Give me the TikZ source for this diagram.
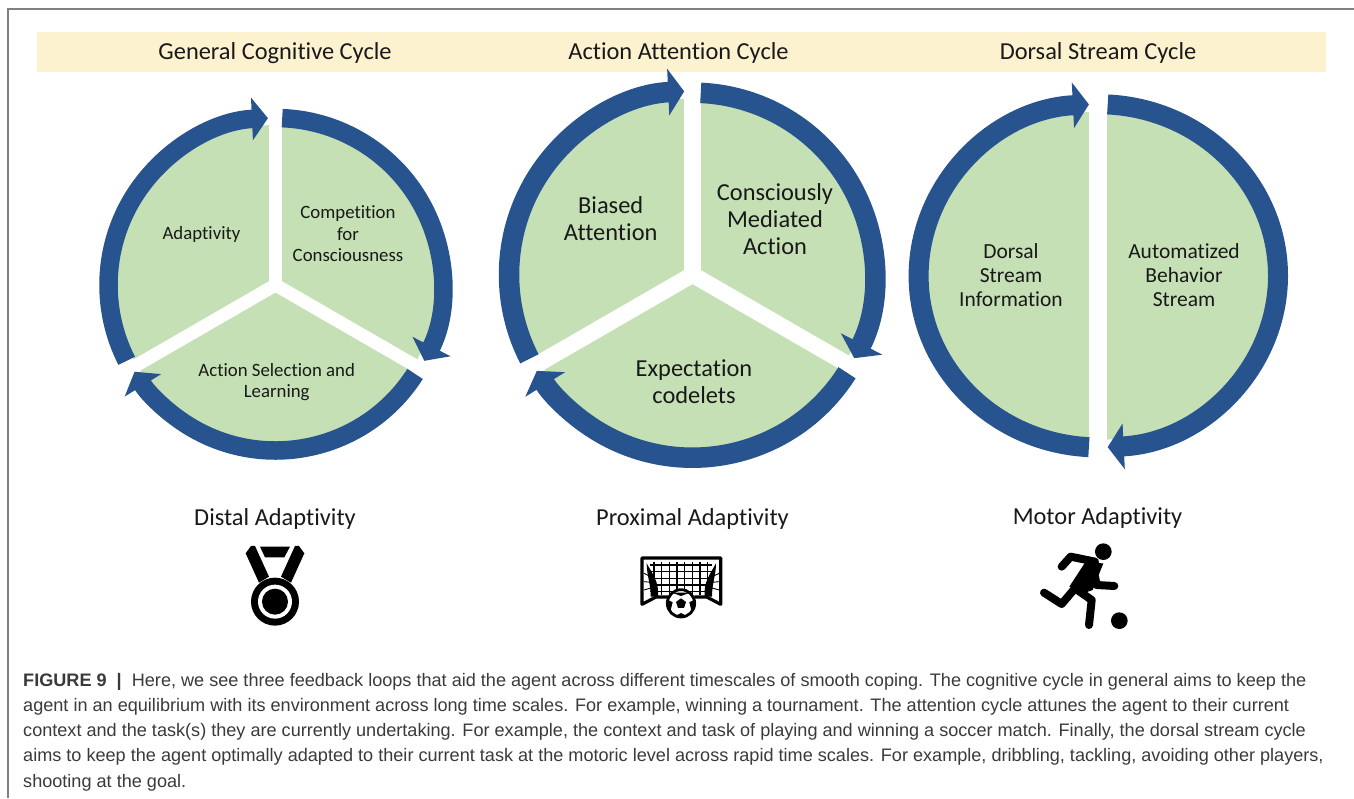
\documentclass[tikz,border=0pt]{standalone}
\usepackage{fontspec}
\usetikzlibrary{arrows.meta}
\setmainfont[Ligatures=CommonOff]{Carlito}
\newfontfamily\captionfont{Liberation Sans}
\definecolor{cyclegreen}{HTML}{C5E0B4}
\definecolor{cycleblue}{HTML}{27538F}
\definecolor{bandcream}{HTML}{FDF2CF}
\definecolor{captiontext}{HTML}{3A3A3A}

\begin{document}
\begin{tikzpicture}[x=1pt,y=1pt,
    sector/.style={fill=cyclegreen},
    gap/.style={draw=white,line width=13},
    looparrow/.style={draw=cycleblue,line width=18.5,-{Triangle[width=42pt,length=16pt]}},
    bigarrow/.style={draw=cycleblue,line width=20.5,-{Triangle[width=46pt,length=16pt]}},
    tallarrow/.style={draw=cycleblue,line width=20,-{Triangle[width=45pt,length=16pt]}},
    heading/.style={font=\fontsize{24.4}{28}\selectfont,text=black!90},
    smalllabel/.style={align=center,font=\fontsize{18.8}{21.5}\selectfont,text=black!90},
    biglabel/.style={align=center,font=\fontsize{24.4}{27}\selectfont,text=black!90},
    midlabel/.style={align=center,font=\fontsize{21.5}{24}\selectfont,text=black!90}]
    \useasboundingbox (0,0) rectangle (1354,798);
    \draw[black!50,line width=1.3] (8,0) -- (8,789) -- (1354,789);
    \fill[bandcream] (37,726) rectangle (1326,766);

    \coordinate (G) at (275.5,513);
    \coordinate (A) at (692.5,523.3);
    \coordinate (D) at (1098.3,522.2);

    % general cognitive cycle
    \fill[sector] (G) circle (160);
    \draw[gap] (G) -- ++(90:165);
    \draw[gap] (G) -- ++(-30:165);
    \draw[gap] (G) -- ++(210:165);
    \draw[looparrow] (G) ++(207:167) arc[start angle=207,end angle=92.6,radius=167];
    \draw[looparrow] (G) ++(87.7:167) arc[start angle=87.7,end angle=-27,radius=167];
    \draw[looparrow] (G) ++(-32.5:165.5) arc[start angle=-32.5,end angle=-148.4,radius=165.5];

    % action attention cycle
    \fill[sector] (A) circle (176);
    \draw[gap,line width=16.3] (A) -- ++(90:181);
    \draw[gap,line width=16.3] (A) -- ++(-30:181);
    \draw[gap,line width=16.3] (A) -- ++(210:181);
    \draw[bigarrow] (A) ++(207.3:183.5) arc[start angle=207.3,end angle=92.6,radius=183.5];
    \draw[bigarrow] (A) ++(87.4:182) arc[start angle=87.4,end angle=-27.3,radius=182];
    \draw[bigarrow] (A) ++(-32.4:183) arc[start angle=-32.4,end angle=-148.3,radius=183];

    % dorsal stream cycle
    \fill[sector] (D) ellipse[x radius=172,y radius=164];
    \draw[gap,line width=18] (D) ++(0,170) -- ++(0,-340);
    \draw[tallarrow] (D) ++(267:179.7 and 171.6) arc[start angle=267,end angle=93,x radius=179.7,y radius=171.6];
    \draw[tallarrow] (D) ++(87:179.7 and 171.6) arc[start angle=87,end angle=-87,x radius=179.7,y radius=171.6];

    \node[heading] (gtitle) at (275,744.5) {General Cognitive Cycle};
    \node[heading] (atitle) at (678.5,744.5) {Action Attention Cycle};
    \node[heading] (dtitle) at (1098,744.5) {Dorsal Stream Cycle};

    \node[smalllabel] (adapt) at (201.5,564) {Adaptivity};
    \node[smalllabel] (compete) at (348,564.3) {Competition\\for\\Consciousness};
    \node[smalllabel] (select) at (276.7,416) {Action Selection and\\Learning};
    \node[biglabel] (biased) at (610.7,579.3) {Biased\\Attention};
    \node[biglabel] (mediated) at (775,579) {Consciously\\Mediated\\Action};
    \node[biglabel] (expect) at (694,416) {Expectation\\codelets};
    \node[midlabel] (dorsal) at (1011,523) {Dorsal\\Stream\\Information};
    \node[midlabel] (auto) at (1184,523) {Automatized\\Behavior\\Stream};

    \node[heading] (distal) at (275,279.5) {Distal Adaptivity};
    \node[heading] (proximal) at (692.5,279.5) {Proximal Adaptivity};
    \node[heading] (motor) at (1097.5,280.5) {Motor Adaptivity};

    % medal
    \begin{scope}[shift={(235,263)},x=0.3333pt,y=-0.3333pt]
      \fill (75,35) -- (165,35) -- (148,67) -- (90,67) -- cycle;
      \fill (32,55) -- (48,33) -- (60,33) -- (102,125) -- (72,143) -- cycle;
      \fill (208,55) -- (192,33) -- (180,33) -- (138,125) -- (168,143) -- cycle;
      \fill (120,200) circle (72);
      \fill[white] (120,200) circle (51);
      \fill (120,200) circle (39);
    \end{scope}

    % goal
    \begin{scope}[shift={(630,253)},x=0.3333pt,y=-0.3333pt]
      \draw[line width=1.1]
      (72,50) -- (72,150) (95,50) -- (95,150) (118,50) -- (118,150) (141,50) -- (141,150)
      (164,50) -- (164,150) (187,50) -- (187,150) (210,50) -- (210,150) (233,50) -- (233,150)
      (60,60) -- (245,60) (60,80) -- (245,80) (60,100) -- (245,100) (60,120) -- (245,120) (60,140) -- (245,140);
      \draw[line width=0.9]
      (42,85) -- (62,95) (42,110) -- (64,112) (42,135) -- (66,128)
      (268,85) -- (246,95) (268,110) -- (244,112) (268,135) -- (242,128);
      \draw[line width=3.2,line join=round]
      (115,156) -- (78,156) -- (36,178) -- (36,39) -- (272,39) -- (272,178) -- (230,156) -- (193,156);
      \fill (50,55) .. controls (66,85) and (88,110) .. (84,155) -- (62,155) .. controls (62,115) and (50,90) .. cycle;
      \fill (258,55) .. controls (242,85) and (220,110) .. (224,155) -- (246,155) .. controls (246,115) and (258,90) .. cycle;
      \draw[fill=white,line width=2.8] (153,175) circle (41);
      \fill (153,160) -- (168,171) -- (162,189) -- (144,189) -- (138,171) -- cycle;
      \fill (126,143) -- (180,143) -- (153,153) -- cycle;
      \fill (114,165) -- (128,172) -- (120,203) -- cycle;
      \fill (192,165) -- (178,172) -- (186,203) -- cycle;
      \fill (134,214) -- (172,214) -- (153,204) -- cycle;
    \end{scope}

    % runner
    \begin{scope}[shift={(1020,268)},x=0.3333pt,y=-0.3333pt]
      \fill (250,65) circle (25);
      \fill (298,272) circle (25);
      \draw[line width=8,line cap=round,line join=round]
      (125,110) -- (152,80) -- (225,95)
      (225,140) -- (230,165) -- (283,168)
      (165,175) -- (125,222) -- (72,188)
      (165,175) -- (215,210) -- (207,285);
      \fill (195,98) -- (250,100) -- (218,180) -- (190,190) -- (148,170) -- cycle;
    \end{scope}

    \node[anchor=north west,align=left,inner sep=0pt,text=captiontext,
      font=\captionfont\fontsize{18.1}{25.2}\selectfont] (caption) at (23,125)
      {\textbf{FIGURE 9\ \ |}\ \ Here, we see three feedback loops that aid the agent across different timescales of smooth coping. The cognitive cycle in general aims to keep the\\
      agent in an equilibrium with its environment across long time scales. For example, winning a tournament. The attention cycle attunes the agent to their current\\
      context and the task(s) they are currently undertaking. For example, the context and task of playing and winning a soccer match. Finally, the dorsal stream cycle\\
      aims to keep the agent optimally adapted to their current task at the motoric level across rapid time scales. For example, dribbling, tackling, avoiding other players,\\
      shooting at the goal.};
\end{tikzpicture}
\end{document}
